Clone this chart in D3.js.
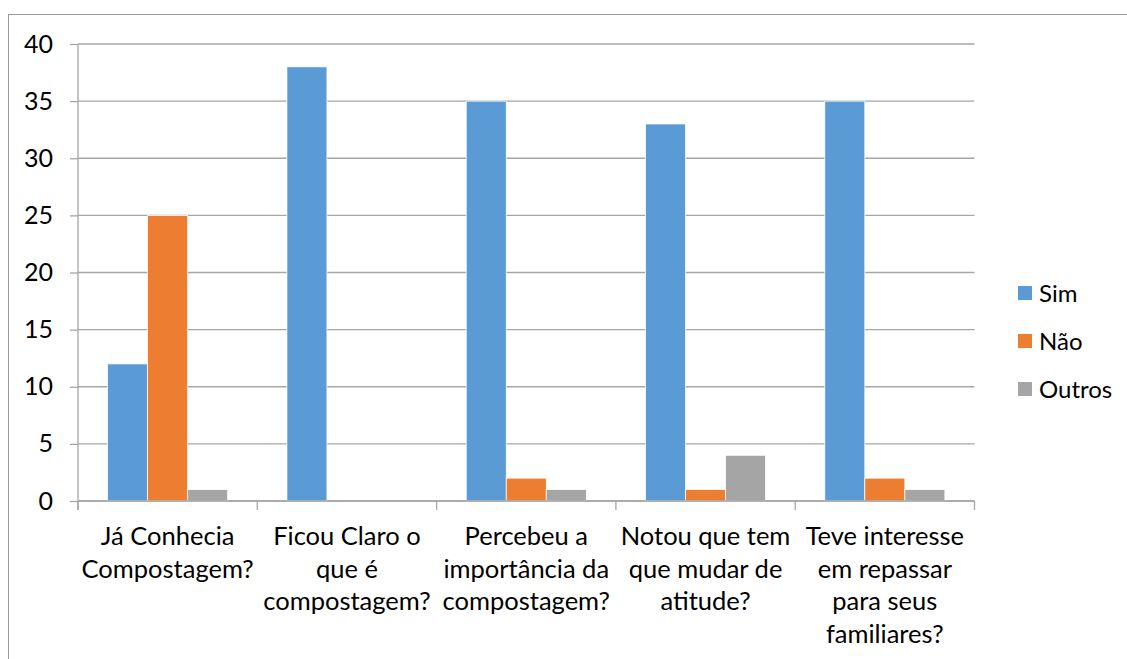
<!DOCTYPE html>
<html>
<head>
<meta charset="utf-8">
<script src="https://cdn.jsdelivr.net/npm/d3@7"></script>
<style>
  html, body { margin: 0; padding: 0; background: #fff; }
  svg { display: block; }
  text { font-family: Lato, "Open Sans", sans-serif; fill: #000; }
</style>
</head>
<body>
<svg id="chart" width="1127" height="659"></svg>
<script>
const categories = [
  "Já Conhecia Compostagem?",
  "Ficou Claro o que é compostagem?",
  "Percebeu a importância da compostagem?",
  "Notou que tem que mudar de atitude?",
  "Teve interesse em repassar para seus familiares?"
];
const categoryLines = [
  ["Já Conhecia", "Compostagem?"],
  ["Ficou Claro o", "que é", "compostagem?"],
  ["Percebeu a", "importância da", "compostagem?"],
  ["Notou que tem", "que mudar de", "atitude?"],
  ["Teve interesse", "em repassar", "para seus", "familiares?"]
];
const seriesNames = ["Sim", "Não", "Outros"];
const simValues = [12, 38, 35, 33, 35];
const naoValues = [25, 0, 2, 1, 2];
const outrosValues = [1, 0, 1, 4, 1];
const yTicks = [0, 5, 10, 15, 20, 25, 30, 35, 40];
const colors = ["#5B9BD5", "#ED7D31", "#A5A5A5"];

const seriesValues = [simValues, naoValues, outrosValues];
const svg = d3.select("#chart");

// chart border
svg.append("rect")
  .attr("x", 8.5).attr("y", 14.5)
  .attr("width", 1130).attr("height", 660)
  .attr("fill", "none").attr("stroke", "#9a9a9a").attr("stroke-width", 1);

const pLeft = 78, pRight = 974.5, pTop = 44, pBottom = 501;

const x0 = d3.scaleBand().domain(categories).range([pLeft, pRight]).padding(0);
const x1 = d3.scaleBand().domain(seriesNames).range([0, x0.bandwidth()])
  .paddingInner(0).paddingOuter(0.74);
const y = d3.scaleLinear().domain([0, 40]).range([pBottom, pTop]);

// gridlines + y axis
const yAxis = d3.axisLeft(y).tickValues(yTicks).tickSize(8).tickPadding(10);
const yg = svg.append("g").attr("transform", `translate(${pLeft},0)`).call(yAxis);
yg.select(".domain").remove();
yg.selectAll(".tick line").attr("stroke", "#a6a6a6").attr("stroke-width", 1.3);
yg.selectAll(".tick text").attr("font-size", 25).attr("font-family", "Lato").attr("fill", "#000")
  .attr("x", -25);

svg.append("g").selectAll("line").data(yTicks).join("line")
  .attr("x1", pLeft).attr("x2", pRight)
  .attr("y1", d => y(d)).attr("y2", d => y(d))
  .attr("stroke", "#a6a6a6").attr("stroke-width", 1.3);

// vertical axis line
svg.append("line")
  .attr("x1", pLeft).attr("x2", pLeft)
  .attr("y1", y(40)).attr("y2", pBottom + 9)
  .attr("stroke", "#a6a6a6").attr("stroke-width", 1.3);

// bars
const groups = svg.append("g").selectAll("g").data(categories).join("g")
  .attr("transform", d => `translate(${x0(d)},0)`);
groups.selectAll("rect")
  .data((c, i) => seriesNames.map((s, j) => ({ s, v: seriesValues[j][i], j })))
  .join("rect")
  .filter(d => d.v > 0)
  .attr("x", d => x1(d.s))
  .attr("width", x1.bandwidth())
  .attr("y", d => y(d.v))
  .attr("height", d => y(0) - y(d.v))
  .attr("fill", d => colors[d.j])
  .attr("stroke", "#fff").attr("stroke-width", 0.75);

// x axis baseline over bars
svg.append("line")
  .attr("x1", pLeft).attr("x2", pRight)
  .attr("y1", y(0)).attr("y2", y(0))
  .attr("stroke", "#a6a6a6").attr("stroke-width", 1.3);

// category boundary ticks
const boundaries = categories.map(c => x0(c)).concat([x0(categories[categories.length - 1]) + x0.bandwidth()]);
svg.append("g").selectAll("line").data(boundaries).join("line")
  .attr("x1", d => d).attr("x2", d => d)
  .attr("y1", y(0)).attr("y2", y(0) + 9)
  .attr("stroke", "#a6a6a6").attr("stroke-width", 1.3);

// category labels
const lineH = 32.5;
svg.append("g").selectAll("text").data(categories).join("text")
  .attr("text-anchor", "middle")
  .attr("font-size", 25.5)
  .attr("x", d => x0(d) + x0.bandwidth() / 2)
  .attr("y", 545)
  .each(function(d, i) {
    const t = d3.select(this);
    categoryLines[i].forEach((ln, k) => {
      t.append("tspan").attr("x", x0(d) + x0.bandwidth() / 2).attr("y", 545 + k * lineH).text(ln);
    });
  });

// legend
const legend = svg.append("g").selectAll("g").data(seriesNames).join("g")
  .attr("transform", (d, i) => `translate(1018,${286 + i * 48})`);
legend.append("rect").attr("width", 14).attr("height", 14).attr("fill", (d, i) => colors[i]);
legend.append("text").attr("x", 21).attr("y", 7).attr("dy", "0.36em")
  .attr("font-size", 24).text(d => d);
</script>
</body>
</html>
